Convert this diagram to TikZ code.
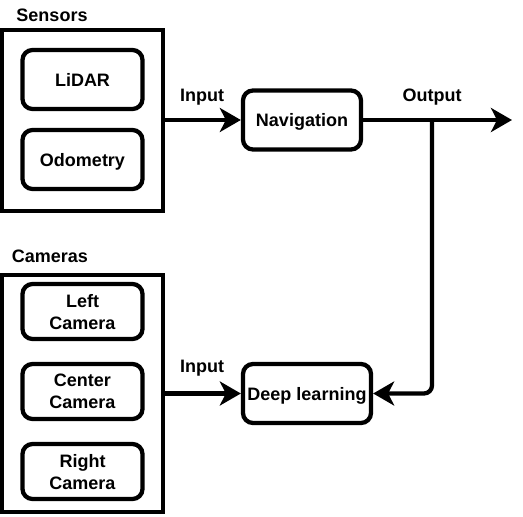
\documentclass[tikz,border=0pt]{standalone}
\usepackage{fontspec}
\setmainfont{Liberation Sans}
\usetikzlibrary{arrows.meta}
\begin{document}
\begin{tikzpicture}[x=1pt,y=-1pt,
  txt/.style={font=\fontsize{18}{22}\selectfont\bfseries, align=center, text depth=0pt},
  group/.style={draw, line width=4.3pt, inner sep=0pt},
  item/.style={draw, line width=4.3pt, rounded corners=10pt, minimum width=120pt, inner sep=0pt, txt},
  conn/.style={line width=4.3pt, -{Stealth[length=21pt,width=24pt,inset=6pt]}}
]
\useasboundingbox (0,0) rectangle (523,517);
% groups
\node[group, minimum width=161pt, minimum height=181pt] (sensors) at (82.5,120.5) {};
\node[group, minimum width=161pt, minimum height=237pt] (cameras) at (82.5,393.5) {};
\node[txt] (sensorslbl) at (52,15) {Sensors};
\node[txt] (cameraslbl) at (50,256) {Cameras};
% items
\node[item, minimum height=59pt] (lidar) at (82.5,79.5) {LiDAR};
\node[item, minimum height=59pt] (odo) at (82.5,159.5) {Odometry};
\node[item, minimum height=55pt] (left) at (82.5,311.5) {Left\\Camera};
\node[item, minimum height=55pt] (center) at (82.5,391.5) {Center\\Camera};
\node[item, minimum height=55pt] (right) at (82.5,471.5) {Right\\Camera};
\node[item, minimum height=59pt, minimum width=118pt] (nav) at (302,120) {Navigation};
\node[item, minimum height=59pt, minimum width=128pt] (dl) at (307,393.5) {Deep learning};
% labels
\node[txt] (in1) at (202,95) {Input};
\node[txt] (in2) at (202,366) {Input};
\node[txt] (out) at (432,95) {Output};
% connectors
\coordinate (outend) at (512,120);
\coordinate (branch) at (432,120);
\draw[conn] (sensors.east |- nav.west) -- (nav.west);
\draw[conn] (cameras.east |- dl.west) -- (dl.west);
\draw[conn] (nav.east) -- (outend);
\draw[conn, rounded corners=8pt] (branch) |- (dl.east);
\end{tikzpicture}
\end{document}
